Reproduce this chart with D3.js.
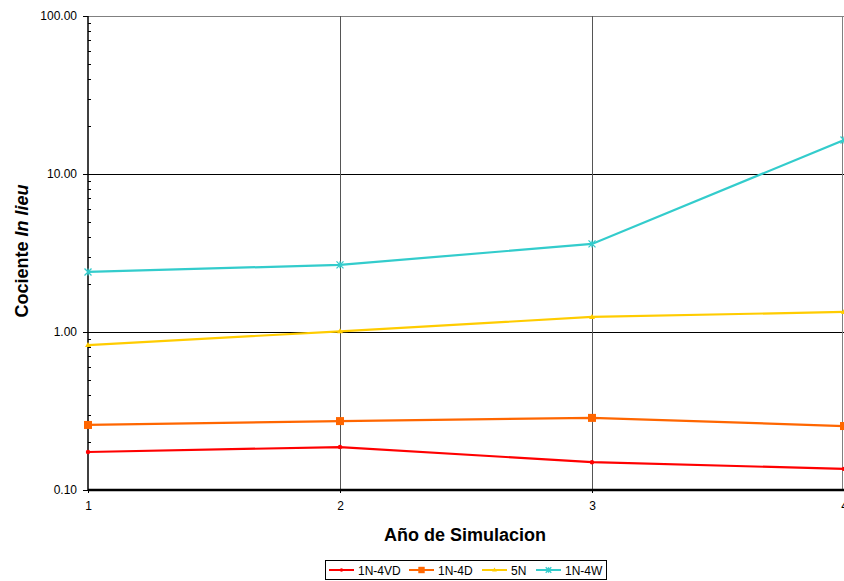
<!DOCTYPE html>
<html><head><meta charset="utf-8">
<script src="https://cdn.jsdelivr.net/npm/d3@7"></script>
<style>body{margin:0;background:#fff;overflow:hidden}svg{display:block;font-family:Arial,"Liberation Sans",sans-serif}</style>
</head><body>
<script>
const years = [1, 2, 3, 4];
const yTicks = [0.1, 1, 10, 100];
const s1N4VD = [0.174, 0.187, 0.150, 0.136];
const s1N4D = [0.258, 0.273, 0.286, 0.254];
const s5N = [0.827, 1.01, 1.245, 1.34];
const s1N4W = [2.40, 2.66, 3.61, 16.4];
const seriesNames = ["1N-4VD", "1N-4D", "5N", "1N-4W"];
const seriesColors = ["#FF0000", "#FF6600", "#FFCC00", "#33CCCC"];
const seriesMarkers = ["dot", "square", "triangle", "star"];
const seriesData = [s1N4VD, s1N4D, s5N, s1N4W];

const W = 844, H = 581;
const svg = d3.select("body").append("svg").attr("width", W).attr("height", H);
const L = 88, T = 16, R = 844, B = 490;
const x = d3.scaleLinear().domain([1, 4]).range([L, R]);
const y = d3.scaleLog().domain([0.1, 100]).range([B, T]);
const FONT = "Arial, 'Liberation Sans', sans-serif";

// minor ticks
const minor = [];
for (let d = 0.1; d < 100; d *= 10) for (let k = 2; k <= 9; k++) minor.push(+(d * k).toPrecision(3));
svg.append("g").selectAll("line").data(minor).join("line")
  .attr("x1", L).attr("x2", L + 3).attr("y1", d => Math.round(y(d)) + 0.5).attr("y2", d => Math.round(y(d)) + 0.5)
  .attr("stroke", "#000").attr("stroke-width", 1);

// horizontal gridlines
svg.append("g").selectAll("line").data([1, 10]).join("line")
  .attr("x1", L).attr("x2", R).attr("y1", d => Math.round(y(d)) + 0.5).attr("y2", d => Math.round(y(d)) + 0.5)
  .attr("stroke", "#000").attr("stroke-width", 1);
// top border
svg.append("line").attr("x1", L).attr("x2", R).attr("y1", T + 0.5).attr("y2", T + 0.5).attr("stroke", "#808080");
// vertical gridlines
svg.append("g").selectAll("line").data([2, 3]).join("line")
  .attr("x1", d => Math.round(x(d)) + 0.5).attr("x2", d => Math.round(x(d)) + 0.5).attr("y1", T).attr("y2", B)
  .attr("stroke", "#555").attr("stroke-width", 1);
// right border
svg.append("line").attr("x1", R - 1.5).attr("x2", R - 1.5).attr("y1", T).attr("y2", B).attr("stroke", "#808080").attr("stroke-width", 1);

// y axis
const yAxis = d3.axisLeft(y).tickValues(yTicks).tickFormat(d3.format(".2f")).tickSize(5).tickPadding(6);
const gy = svg.append("g").attr("transform", `translate(${L},0)`).call(yAxis);
gy.select(".domain").attr("stroke-width", 1.5).attr("d", `M0,${T}V${B}`);
gy.selectAll("text").attr("font-size", 12).attr("font-family", FONT).attr("fill", "#000");

// x axis
const xAxis = d3.axisBottom(x).tickValues(years).tickFormat(d3.format("d")).tickSize(3).tickPadding(8);
const gx = svg.append("g").attr("transform", `translate(0,${B})`).call(xAxis);
gx.select(".domain").attr("stroke-width", 2.5).attr("d", `M${L},0H${R}`);
gx.selectAll("text").attr("font-size", 12).attr("font-family", FONT).attr("fill", "#000");

// lines & markers
function marker(g, type, color, cx, cy, s) {
  if (type === "dot") g.append("circle").attr("cx", cx).attr("cy", cy).attr("r", 2.2 * s).attr("fill", color);
  else if (type === "square") g.append("rect").attr("x", cx - 4 * s).attr("y", cy - 4 * s).attr("width", 8 * s).attr("height", 8 * s).attr("fill", color);
  else if (type === "triangle") g.append("path").attr("d", `M${cx},${cy - 3 * s}L${cx + 3 * s},${cy + 2 * s}L${cx - 3 * s},${cy + 2 * s}Z`).attr("fill", color);
  else if (type === "star") {
    const r = 3.5 * s;
    g.append("path").attr("d", `M${cx - r},${cy - r}L${cx + r},${cy + r}M${cx - r},${cy + r}L${cx + r},${cy - r}M${cx},${cy - r}V${cy + r}`)
      .attr("stroke", color).attr("stroke-width", 1.3).attr("fill", "none");
  }
}
const line = d3.line().x((d, i) => x(years[i])).y(d => y(d));
seriesData.forEach((data, si) => {
  const g = svg.append("g");
  g.append("path").attr("d", line(data)).attr("fill", "none").attr("stroke", seriesColors[si]).attr("stroke-width", 2.2);
  data.forEach((v, i) => marker(g, seriesMarkers[si], seriesColors[si], x(years[i]), y(v), 1));
});

// titles
svg.append("text").attr("x", 465).attr("y", 541).attr("text-anchor", "middle")
  .attr("font-size", 18).attr("font-weight", "bold").text("Año de Simulacion");
const yt = svg.append("text").attr("transform", `translate(28,251) rotate(-90)`).attr("text-anchor", "middle")
  .attr("font-size", 18).attr("font-weight", "bold");
yt.append("tspan").text("Cociente ");
yt.append("tspan").attr("font-style", "italic").text("In lieu");

// legend
const lg = svg.append("g");
lg.append("rect").attr("x", 325.5).attr("y", 560.5).attr("width", 281).attr("height", 19).attr("fill", "#fff").attr("stroke", "#000").attr("stroke-width", 1);
const legX = [329, 409, 482, 536];
seriesNames.forEach((n, i) => {
  const lx = legX[i], ly = 570;
  lg.append("line").attr("x1", lx).attr("x2", lx + 25).attr("y1", ly).attr("y2", ly).attr("stroke", seriesColors[i]).attr("stroke-width", 2);
  marker(lg, seriesMarkers[i], seriesColors[i], lx + 12.5, ly, 0.8);
  lg.append("text").attr("x", lx + 29).attr("y", ly + 4.5).attr("font-size", 12).text(n);
});
</script>
</body></html>
